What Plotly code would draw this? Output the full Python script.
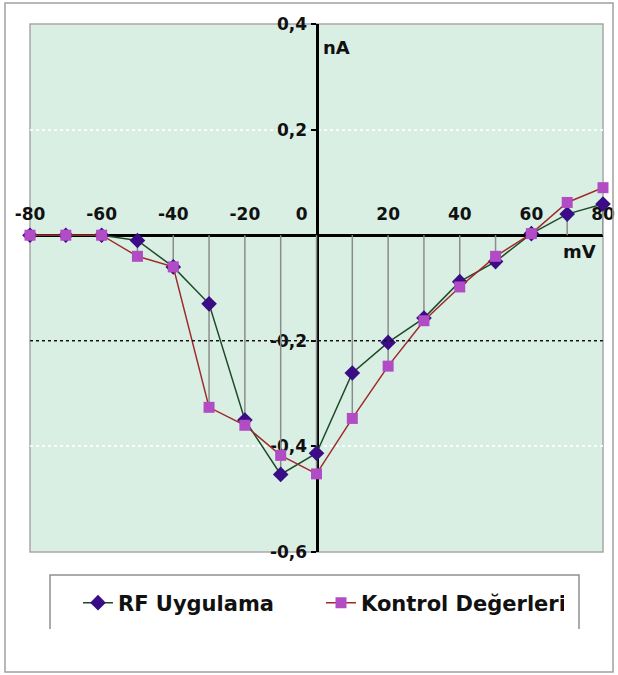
import plotly.graph_objects as go

# ---- data ----
voltage_mv = [-80, -70, -60, -50, -40, -30, -20, -10, 0, 10, 20, 30, 40, 50, 60, 70, 80]
rf_uygulama = [0, 0, 0, -0.01, -0.06, -0.13, -0.35, -0.453, -0.413, -0.261, -0.203, -0.157,
               -0.088, -0.05, 0.003, 0.04, 0.059]
kontrol = [0, 0, 0, -0.04, -0.06, -0.326, -0.36, -0.417, -0.452, -0.347, -0.248, -0.162,
           -0.098, -0.04, 0.003, 0.062, 0.09]

x_tickvals = [-80, -60, -40, -20, 0, 20, 40, 60, 80]
x_ticktext = ["-80", "-60", "-40", "-20", "0\u00a0\u00a0\u00a0\u00a0\u00a0", "20", "40", "60", "80"]
y_tickvals = [-0.6, -0.4, -0.2, 0.2, 0.4]
y_ticktext = ["-0,6", "-0,4", "-0,2", "0,2", "0,4"]
dark_gridline = [-0.2]

# ---- layout geometry (pixels) ----
W, H = 618, 675
L, R, T, B = 30, 15, 24, 123
pw, ph = W - L - R, H - T - B


def px(xp):
    return (xp - L) / pw


def py(yp):
    return (H - B - yp) / ph


font_fam = "DejaVu Sans"
tick_font = dict(family=font_fam, size=17, color="#111111", weight="bold")

# drop lines from the axis to the lower point of each category
drop_x, drop_y = [], []
for xv, a, b in zip(voltage_mv, rf_uygulama, kontrol):
    drop_x += [xv, xv, None]
    drop_y += [0, min(a, b), None]

fig = go.Figure()
fig.add_trace(go.Scatter(x=drop_x, y=drop_y, mode="lines",
                         line=dict(color="#8c8c8c", width=1.5),
                         showlegend=False, hoverinfo="skip"))
fig.add_trace(go.Scatter(x=voltage_mv, y=rf_uygulama, mode="lines+markers",
                         name="RF Uygulama",
                         line=dict(color="#1f4a28", width=1.5),
                         marker=dict(symbol="diamond", size=12, color="#3a0c86"),
                         cliponaxis=False))
fig.add_trace(go.Scatter(x=voltage_mv, y=kontrol, mode="lines+markers",
                         name="Kontrol Değerleri",
                         line=dict(color="#9e2a2a", width=1.5),
                         marker=dict(symbol="square", size=11, color="#b24cc4"),
                         cliponaxis=False))

shapes = []
# plot area border
shapes.append(dict(type="rect", xref="paper", yref="paper", x0=0, x1=1, y0=0, y1=1,
                   line=dict(color="#a8a8a8", width=1.5), layer="below"))
# dark dotted gridline
for gv in dark_gridline:
    shapes.append(dict(type="line", xref="paper", yref="y", x0=0, x1=1, y0=gv, y1=gv,
                       line=dict(color="#111111", width=1.5, dash="dot"), layer="above"))
# outer chart border
shapes.append(dict(type="rect", xref="paper", yref="paper",
                   x0=px(5), x1=px(613), y0=py(672), y1=py(3),
                   line=dict(color="#a0a0a0", width=1.5)))
# legend box (no bottom edge)
lx0, lx1, ly0, ly1 = px(50), px(579), py(575), py(629)
shapes.append(dict(type="path", xref="paper", yref="paper",
                   path=f"M {lx0},{ly1} L {lx0},{ly0} L {lx1},{ly0} L {lx1},{ly1}",
                   line=dict(color="#909090", width=1.5)))

annotations = [
    dict(text="nA", xref="x", yref="paper", x=0, y=py(48), xanchor="left", yanchor="middle",
         xshift=4, showarrow=False, font=dict(family=font_fam, size=18, color="#111111", weight="bold")),
    dict(text="mV", xref="paper", yref="paper", x=px(598), y=py(252), xanchor="right", yanchor="middle",
         showarrow=False, font=dict(family=font_fam, size=18, color="#111111", weight="bold")),
]

fig.update_layout(
    width=W, height=H,
    margin=dict(l=L, r=R, t=T, b=B, pad=0, autoexpand=False),
    paper_bgcolor="white",
    plot_bgcolor="#d9efe4",
    shapes=shapes,
    annotations=annotations,
    legend=dict(orientation="h", x=px(78), y=py(603), xanchor="left", yanchor="middle",
                font=dict(family=font_fam, size=21, color="#111111", weight="bold"),
                bgcolor="rgba(0,0,0,0)", borderwidth=0,
                entrywidth=198, entrywidthmode="pixels"),
    xaxis=dict(range=[-80, 80], anchor="free", position=0.6, side="top",
               tickvals=x_tickvals, ticktext=x_ticktext, tickfont=tick_font,
               ticks="outside", ticklen=7, tickcolor="rgba(0,0,0,0)",
               showline=True, linecolor="black", linewidth=3, automargin=False,
               showgrid=False, zeroline=False, layer="below traces", fixedrange=True),
    yaxis=dict(range=[-0.6, 0.4], anchor="free", position=0.5, side="left",
               tickvals=y_tickvals, ticktext=y_ticktext, tickfont=tick_font,
               ticks="outside", ticklen=5, tickwidth=2, tickcolor="black",
               showline=True, linecolor="black", linewidth=3, automargin=False,
               showgrid=True, gridcolor="rgba(255,255,255,0.85)", griddash="dot", gridwidth=1.5,
               zeroline=False, layer="below traces", fixedrange=True),
)

fig.write_html("out.html", config={"displayModeBar": False},
               post_script="document.body.style.margin='0px';document.body.style.padding='0px';")
